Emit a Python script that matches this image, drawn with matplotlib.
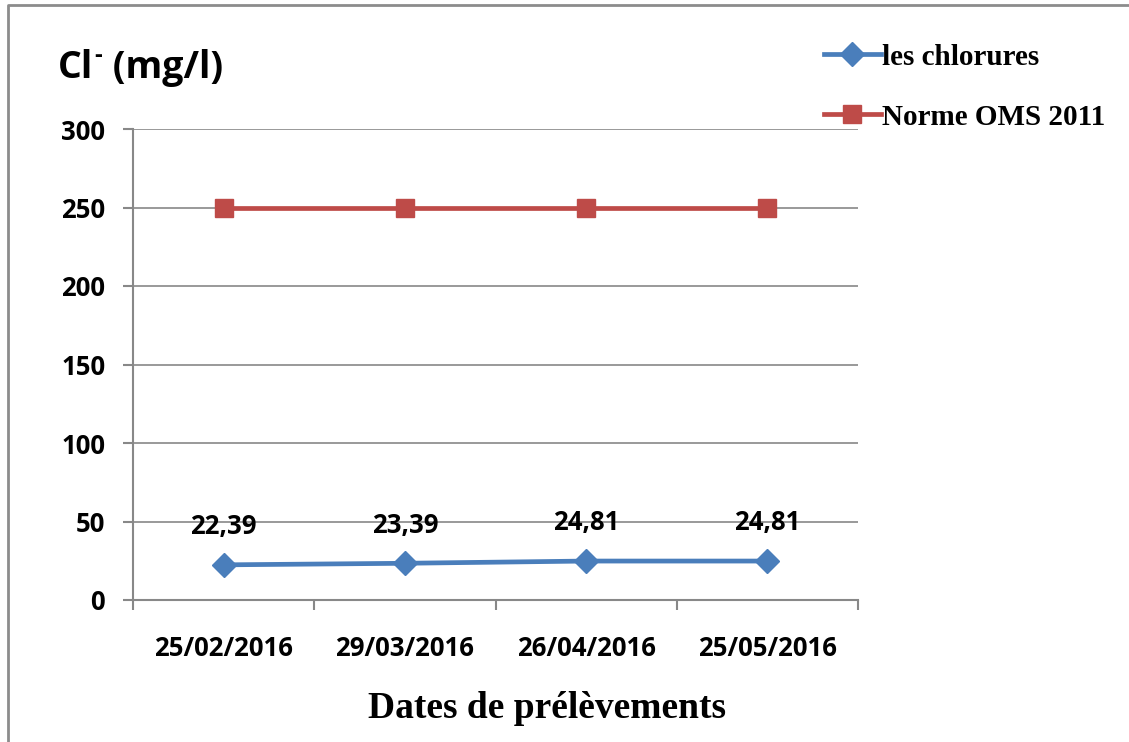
import matplotlib
matplotlib.use("Agg")
import matplotlib.pyplot as plt
from matplotlib.lines import Line2D

dates = ["25/02/2016", "29/03/2016", "26/04/2016", "25/05/2016"]
chlorures = [22.39, 23.39, 24.81, 24.81]
norme_oms = [250, 250, 250, 250]
y_ticks = [0, 50, 100, 150, 200, 250, 300]

blue = "#4A7EBB"
red = "#BE4B48"
grid_grey = "#888888"
W, H = 1129, 742
tick_font = {"fontsize": 18.5, "fontweight": "bold", "family": "Open Sans"}

fig = plt.figure(figsize=(W / 100, H / 100), dpi=100)
ax = fig.add_axes([133 / W, 1 - 600 / H, (858 - 133) / W, (600 - 129) / H])

x = list(range(len(dates)))
ax.plot(x, chlorures, color=blue, lw=3.4, marker="D", ms=12, label="les chlorures", zorder=3)
ax.plot(x, norme_oms, color=red, lw=3.4, marker="s", ms=13, label="Norme OMS 2011", zorder=3)

for xi, v in zip(x, chlorures):
    ax.annotate(f"{v:.2f}".replace(".", ","), (xi, v), xytext=(0, 27.5), textcoords="offset points",
                ha="center", va="center", zorder=4, **tick_font)

ax.set_xlim(-0.5, len(dates) - 0.5)
ax.set_ylim(0, 300)
ax.set_yticks(y_ticks)
ax.set_yticklabels([str(t) for t in y_ticks], **tick_font)
ax.set_xticks(x)
ax.set_xticklabels(dates, **tick_font)
ax.set_xticks([i - 0.5 for i in range(len(dates) + 1)], minor=True)
ax.tick_params(axis="x", which="major", length=0, pad=25)
ax.tick_params(axis="x", which="minor", length=7, width=1.5, color=grid_grey, direction="out")
ax.tick_params(axis="y", length=7, width=1.5, color=grid_grey, direction="out", pad=13)

ax.grid(axis="y", color=grid_grey, lw=1.2, zorder=0)
for s in ["top", "right"]:
    ax.spines[s].set_visible(False)
for s in ["left", "bottom"]:
    ax.spines[s].set_color(grid_grey)
    ax.spines[s].set_linewidth(1.5)

# x-axis title
fig.text(547 / W, 1 - 708 / H, "Dates de prélèvements", fontsize=27, fontweight="bold",
         family="Liberation Serif", ha="center", va="center")

# y-axis title: "Cl" with a small superscript minus, then the unit
title_font = {"fontsize": 27, "fontweight": "bold", "family": "Open Sans"}
fig.canvas.draw()
renderer = fig.canvas.get_renderer()
t1 = fig.text(58 / W, 1 - 68 / H, "Cl", va="center", ha="left", **title_font)
x1 = t1.get_window_extent(renderer).x1
t2 = fig.text((x1 + 1) / W, 1 - 56 / H, "-", va="center", ha="left",
              fontsize=17, fontweight="bold", family="Open Sans")
x2 = t2.get_window_extent(renderer).x1
fig.text((x2 + 1) / W, 1 - 68 / H, " (mg/l)", va="center", ha="left", **title_font)

handles = [Line2D([], [], color=blue, lw=3.4, marker="D", ms=12),
           Line2D([], [], color=red, lw=3.4, marker="s", ms=13)]
fig.legend(handles, ["les chlorures", "Norme OMS 2011"], loc="upper left",
           bbox_to_anchor=(812 / W, 1 - 32 / H), frameon=False, handlelength=1.95,
           handletextpad=0.05, labelspacing=1.13, borderaxespad=0,
           prop={"family": "Liberation Serif", "weight": "bold", "size": 21})

# outer frame (left and top edges)
fig.add_artist(Line2D([8 / W, 8 / W, 1.0], [0.0, 1 - 5 / H, 1 - 5 / H],
                      transform=fig.transFigure, color="#8c8c8c", lw=2))

fig.savefig("out.png", dpi=100)
